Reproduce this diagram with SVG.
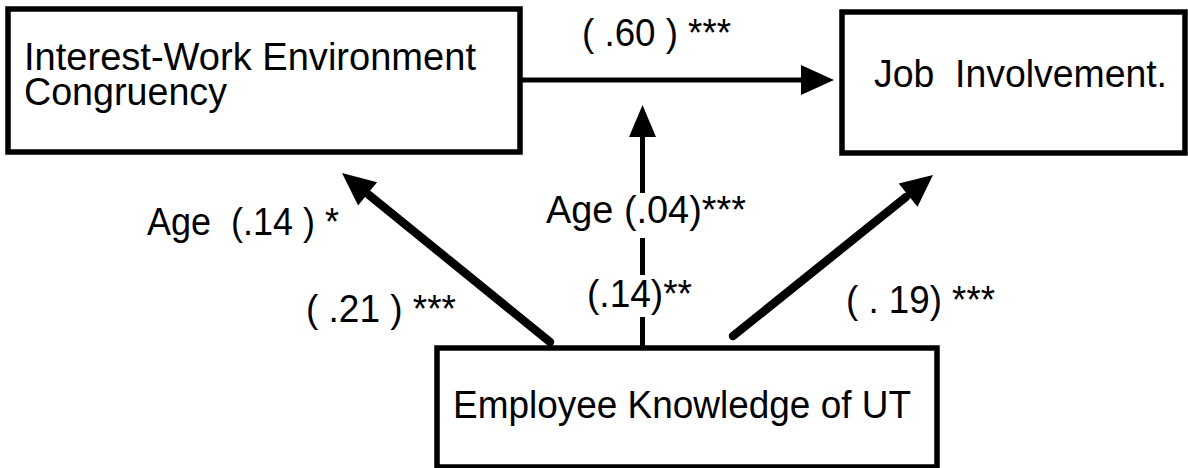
<svg xmlns="http://www.w3.org/2000/svg" width="1188" height="468" viewBox="0 0 1188 468">
<style>
.box{fill:#fff;stroke:#000;stroke-width:5.5}
.t{font-family:"Liberation Sans",Arial,Helvetica,sans-serif;font-size:39px;fill:#000;white-space:pre}
.ln{stroke:#000;stroke-width:5;fill:none}
.dg{stroke:#000;stroke-width:8.5;fill:none;stroke-linecap:round}
.hd{fill:#000;stroke:none}
</style>
<rect width="1188" height="468" fill="#fff"/>
<g id="connectors">
<line class="ln" x1="520" y1="80" x2="803" y2="80"/>
<polygon class="hd" points="834,80 801,65 801,95"/>
<line class="ln" x1="642.5" y1="135" x2="642.5" y2="193"/>
<line class="ln" x1="642.5" y1="238" x2="642.5" y2="275"/>
<line class="ln" x1="642.5" y1="317" x2="642.5" y2="348"/>
<polygon class="hd" points="642.5,105 629,137 656,137"/>
<line class="dg" x1="550" y1="342" x2="369" y2="195"/>
<polygon class="hd" points="342,173 377.1,182.2 358.1,205.4"/>
<line class="dg" x1="733" y1="336" x2="906" y2="197"/>
<polygon class="hd" points="933,175 917.5,206.8 898.7,183.4"/>
</g>
<g id="node-congruency">
<rect class="box" x="8" y="9" width="512" height="143"/>
<text class="t"><tspan x="24" y="70" textLength="452" lengthAdjust="spacingAndGlyphs">Interest-Work Environment</tspan><tspan x="24" y="105" textLength="203" lengthAdjust="spacingAndGlyphs">Congruency</tspan></text>
</g>
<g id="node-job">
<rect class="box" x="842" y="12" width="343" height="141"/>
<text class="t" x="874" y="87" textLength="293" lengthAdjust="spacingAndGlyphs">Job  Involvement.</text>
</g>
<g id="node-knowledge">
<rect class="box" x="437" y="348" width="500" height="119"/>
<text class="t" x="453" y="418" textLength="458" lengthAdjust="spacingAndGlyphs">Employee Knowledge of UT</text>
</g>
<g id="labels">
<text class="t" x="582" y="46" textLength="149" lengthAdjust="spacingAndGlyphs">( .60 ) ***</text>
<text class="t" x="546" y="223" textLength="200" lengthAdjust="spacingAndGlyphs">Age (.04)***</text>
<text class="t" x="587" y="307" textLength="105" lengthAdjust="spacingAndGlyphs">(.14)**</text>
<text class="t" x="147" y="235" textLength="192" lengthAdjust="spacingAndGlyphs">Age  (.14 ) *</text>
<text class="t" x="306" y="322" textLength="150" lengthAdjust="spacingAndGlyphs">( .21 ) ***</text>
<text class="t" x="846" y="313" textLength="149" lengthAdjust="spacingAndGlyphs">( . 19) ***</text>
</g>
</svg>
